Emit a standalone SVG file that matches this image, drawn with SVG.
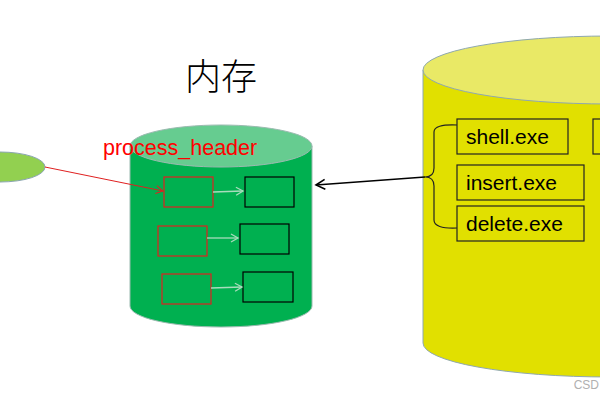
<svg xmlns="http://www.w3.org/2000/svg" width="600" height="400" viewBox="0 0 600 400">
<defs>
<style>
.t{font-family:"Liberation Sans",Arial,sans-serif;font-size:21px;fill:#000}
.rb{fill:none;stroke:#e02020;stroke-width:1.2}
.bb{fill:none;stroke:#000;stroke-width:1.2}
.yb{fill:none;stroke:#222;stroke-width:1.2}
.la{stroke:#a8dcbc;stroke-width:1.3;fill:none;marker-end:url(#la)}
</style>
<marker id="la" markerWidth="10" markerHeight="10" refX="8" refY="5" orient="auto" markerUnits="userSpaceOnUse">
<path d="M1,1 L8,5 L1,9" fill="none" stroke="#a8dcbc" stroke-width="1.3"/>
</marker>
<marker id="ra" markerWidth="10" markerHeight="10" refX="8" refY="5" orient="auto" markerUnits="userSpaceOnUse">
<path d="M1,1 L8,5 L1,9" fill="none" stroke="#e02020" stroke-width="1"/>
</marker>
<marker id="ba" markerWidth="12" markerHeight="12" refX="10" refY="6" orient="auto" markerUnits="userSpaceOnUse">
<path d="M1,1 L10,6 L1,11" fill="none" stroke="#000" stroke-width="1.6"/>
</marker>
</defs>
<rect width="600" height="400" fill="#fff"/>

<g id="process">
<ellipse cx="0" cy="167" rx="45" ry="15" fill="#92d050" stroke="#8aa5b0" stroke-width="1"/>
</g>

<g id="memory">
<path d="M130,146 L130,306 A91,21 0 0 0 312,306 L312,146 Z" fill="#00b050" stroke="#9bbab0" stroke-width="1"/>
<ellipse cx="221" cy="146" rx="91" ry="21" fill="#66cc90" stroke="#9bbab0" stroke-width="1"/>
<text x="221" y="90" text-anchor="middle" style="font-family:'Noto Sans CJK SC',sans-serif;font-size:36px;font-weight:300" fill="#000">内存</text>
<text x="103" y="155" style="font-family:'Liberation Sans',Arial,sans-serif;font-size:21.5px" fill="#ff0000">process_header</text>
</g>

<g id="pcb1"><rect class="rb" x="164" y="177" width="49" height="30"/><rect class="bb" x="245" y="177" width="49" height="30"/></g>
<g id="pcb2"><rect class="rb" x="158" y="226" width="49" height="30"/><rect class="bb" x="240" y="224" width="49" height="30"/></g>
<g id="pcb3"><rect class="rb" x="162" y="274" width="49" height="30"/><rect class="bb" x="243" y="272" width="50" height="30"/></g>

<g id="disk">
<path d="M423,70 L423,343 A187,34 0 0 0 797,343 L797,70 Z" fill="#e1e000" stroke="#8fa8b0" stroke-width="1"/>
<ellipse cx="610" cy="70" rx="187" ry="34" fill="#e9e966" stroke="#8fa8b0" stroke-width="1"/>
</g>

<g id="shell"><rect class="yb" x="457" y="119" width="111" height="35"/><text class="t" x="466" y="144">shell.exe</text></g>
<g id="insert"><rect class="yb" x="457" y="165" width="127" height="35"/><text class="t" x="466" y="190">insert.exe</text></g>
<g id="delete"><rect class="yb" x="457" y="206" width="127" height="35"/><text class="t" x="466" y="231">delete.exe</text></g>
<g id="other"><rect class="yb" x="593" y="119" width="40" height="35"/></g>

<g id="connectors">
<line x1="45" y1="167" x2="163" y2="191" stroke="#e02020" stroke-width="1" marker-end="url(#ra)"/>
<line class="la" x1="213" y1="192" x2="243" y2="191"/>
<line class="la" x1="207" y1="238" x2="238" y2="238"/>
<line class="la" x1="211" y1="288" x2="242" y2="287"/>
<path d="M457,125 Q434,124 434,132 L434,168 Q434,177 425,177 Q434,177 434,186 L434,220 Q434,229 457,228" fill="none" stroke="#222" stroke-width="1.2"/>
<line x1="425" y1="177" x2="316" y2="185" stroke="#000" stroke-width="1.6" marker-end="url(#ba)"/>
</g>

<text x="599" y="389" text-anchor="end" style="font-family:'Liberation Sans',Arial,sans-serif;font-size:12px" fill="#b0b0b0">CSD</text>
</svg>
